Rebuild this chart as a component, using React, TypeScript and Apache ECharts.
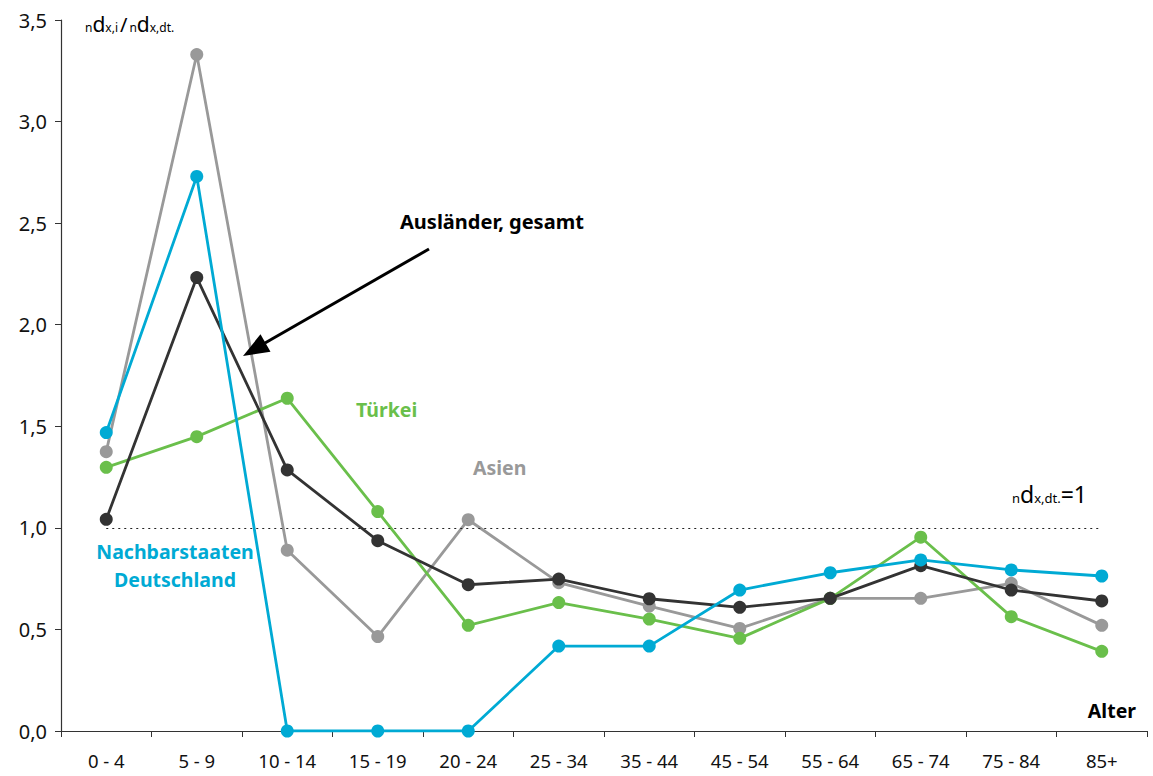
import React, { useEffect, useRef } from "react";
import * as echarts from "echarts";

const categories = ["0 - 4", "5 - 9", "10 - 14", "15 - 19", "20 - 24", "25 - 34", "35 - 44", "45 - 54", "55 - 64", "65 - 74", "75 - 84", "85+"];
const asien = [1.375, 3.33, 0.89, 0.465, 1.04, 0.73, 0.615, 0.505, 0.653, 0.653, 0.727, 0.52];
const tuerkei = [1.298, 1.449, 1.638, 1.08, 0.52, 0.632, 0.551, 0.456, 0.653, 0.954, 0.563, 0.392];
const auslaender = [1.042, 2.232, 1.285, 0.937, 0.72, 0.748, 0.651, 0.609, 0.653, 0.814, 0.694, 0.64];
const nachbar = [1.469, 2.73, 0, 0, 0, 0.418, 0.418, 0.694, 0.779, 0.842, 0.793, 0.763];
const yTicks = [0, 0.5, 1, 1.5, 2, 2.5, 3, 3.5];
const referenceLevel = 1;

const FONT = "'Noto Sans', 'Open Sans', sans-serif";
const C_GRAY = "#999999";
const C_GREEN = "#6abf4b";
const C_BLACK = "#333333";
const C_BLUE = "#00aad4";

function lineSeries(name: string, data: number[], color: string, z: number) {
  return {
    name,
    type: "line",
    data,
    z,
    symbol: "circle",
    symbolSize: 13,
    lineStyle: { color, width: 2.8 },
    itemStyle: { color },
  };
}

export default function App() {
  const ref = useRef<HTMLDivElement>(null);
  useEffect(() => {
    if (!ref.current) return;
    const chart = echarts.init(ref.current, null, { renderer: "svg" });
    const subStyle = { fontSize: 12, fontFamily: FONT, fill: "#000", verticalAlign: "bottom" as const, padding: [0, 0, 1, 0] };
    const mainStyle = { fontSize: 21, fontFamily: FONT, fill: "#000", verticalAlign: "bottom" as const, lineHeight: 25 };
    const slashStyle = { fontSize: 20, fontFamily: FONT, fill: "#000", verticalAlign: "bottom" as const, lineHeight: 25, padding: [0, 2, 0, 2] };
    const subBig = { fontSize: 13, fontFamily: FONT, fill: "#000", verticalAlign: "bottom" as const, padding: [0, 0, 1, 0] };
    const mainBig = { fontSize: 23, fontFamily: FONT, fill: "#000", verticalAlign: "bottom" as const, lineHeight: 27 };
    const ann = (size: number) => `bold ${size}px ${FONT}`;
    chart.setOption({
      animation: false,
      backgroundColor: "#ffffff",
      grid: { left: 61, right: 6, top: 20, bottom: 45, containLabel: false },
      xAxis: {
        type: "category",
        data: categories,
        boundaryGap: true,
        axisLine: { lineStyle: { color: "#333", width: 1.2 } },
        axisTick: { show: true, length: 6, inside: false, lineStyle: { color: "#333" } },
        axisLabel: { color: "#111", fontSize: 18.5, fontFamily: FONT, margin: 20, interval: 0 },
      },
      yAxis: {
        type: "value",
        min: yTicks[0],
        max: yTicks[yTicks.length - 1],
        interval: 0.5,
        axisLine: { show: true, lineStyle: { color: "#333", width: 1.2 } },
        axisTick: { show: true, length: 6, lineStyle: { color: "#333" } },
        splitLine: { show: false },
        axisLabel: {
          color: "#111",
          fontSize: 20,
          fontFamily: FONT,
          margin: 14,
          formatter: (v: number) => v.toFixed(1).replace(".", ","),
        },
      },
      series: [
        {
          ...lineSeries("Asien", asien, C_GRAY, 2),
          markLine: {
            silent: true,
            symbol: "none",
            label: { show: false },
            lineStyle: { color: "#222", type: [2, 4], width: 1.2 },
            data: [[{ coord: [0, referenceLevel] }, { coord: [categories.length - 1, referenceLevel] }]],
          },
        },
        lineSeries("Türkei", tuerkei, C_GREEN, 3),
        lineSeries("Ausländer, gesamt", auslaender, C_BLACK, 4),
        lineSeries("Nachbarstaaten Deutschland", nachbar, C_BLUE, 5),
      ],
      graphic: [
        {
          type: "text",
          left: 85,
          top: 13,
          style: {
            text: "{s|n}{m|d}{s|x,i}{l|/}{s|n}{m|d}{s|x,dt.}",
            rich: { s: subStyle, m: mainStyle, l: slashStyle },
          },
        },
        {
          type: "text",
          left: 1012,
          top: 482,
          style: {
            text: "{s|n}{m|d}{s|x,dt.}{m|=1}",
            rich: { s: subBig, m: mainBig },
          },
        },
        {
          type: "text",
          x: 400,
          y: 221,
          style: { text: "Ausländer, gesamt", font: ann(20), fill: "#000", verticalAlign: "middle", textAlign: "left" },
        },
        {
          type: "text",
          x: 356,
          y: 409,
          style: { text: "Türkei", font: ann(19.5), fill: C_GREEN, verticalAlign: "middle" },
        },
        {
          type: "text",
          x: 473,
          y: 467,
          style: { text: "Asien", font: ann(19.5), fill: C_GRAY, verticalAlign: "middle" },
        },
        {
          type: "text",
          x: 175,
          y: 551,
          style: { text: "Nachbarstaaten", font: ann(19.5), fill: C_BLUE, verticalAlign: "middle", textAlign: "center" },
        },
        {
          type: "text",
          x: 175,
          y: 579,
          style: { text: "Deutschland", font: ann(19.5), fill: C_BLUE, verticalAlign: "middle", textAlign: "center" },
        },
        {
          type: "text",
          x: 1136,
          y: 710,
          style: { text: "Alter", font: ann(19.5), fill: "#000", verticalAlign: "middle", textAlign: "right" },
        },
        {
          type: "line",
          shape: { x1: 429, y1: 249, x2: 265, y2: 343 },
          style: { stroke: "#000", lineWidth: 3 },
          z: 100,
        },
        {
          type: "polygon",
          shape: { points: [[243, 356], [270.5, 351.7], [260.5, 334.3]] },
          style: { fill: "#000" },
          z: 100,
        },
      ],
    });
    return () => chart.dispose();
  }, []);
  return <div ref={ref} style={{ position: "fixed", left: 0, top: 0, width: 1153, height: 776, background: "#fff" }} />;
}
